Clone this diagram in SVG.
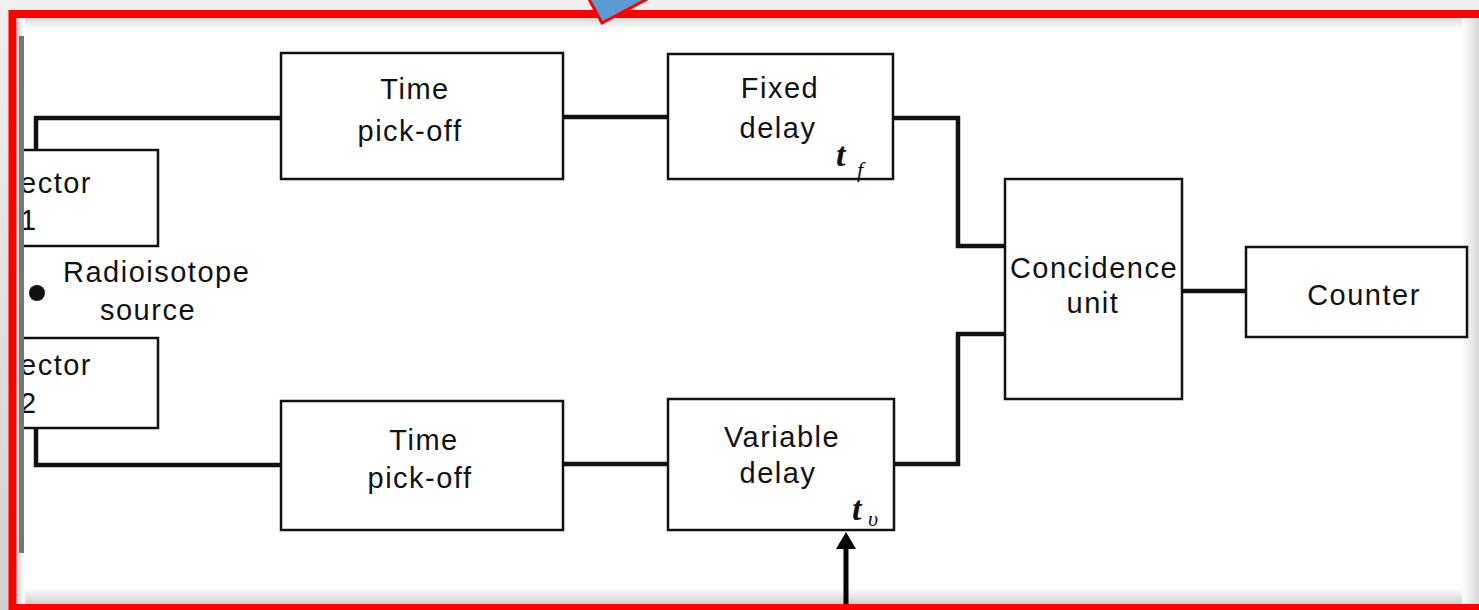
<svg xmlns="http://www.w3.org/2000/svg" width="1479" height="610" viewBox="0 0 1479 610">
  <defs>
    <style>
      .box { fill: #ffffff; stroke: #111111; stroke-width: 2.5; }
      .wire { fill: none; stroke: #111111; stroke-width: 4.5; stroke-linejoin: miter; stroke-linecap: square; }
      .lbl { font-family: "Liberation Sans", Arial, sans-serif; font-size: 29px; letter-spacing: 1.5px; fill: #111111; }
      .mid { text-anchor: middle; }
      .sym { font-family: "Liberation Serif", "Times New Roman", serif; font-style: italic; font-weight: bold; font-size: 34px; fill: #111111; }
      .sub { font-family: "Liberation Serif", "Times New Roman", serif; font-style: italic; font-size: 22px; fill: #111111; }
    </style>
    <linearGradient id="shTop" x1="0" y1="0" x2="0" y2="1">
      <stop offset="0" stop-color="#d4d4d4"/>
      <stop offset="1" stop-color="#ffffff"/>
    </linearGradient>
    <linearGradient id="shBottom" x1="0" y1="0" x2="0" y2="1">
      <stop offset="0" stop-color="#ffffff"/>
      <stop offset="1" stop-color="#cfcfcf"/>
    </linearGradient>
    <linearGradient id="shRight" x1="0" y1="0" x2="1" y2="0">
      <stop offset="0" stop-color="#ffffff"/>
      <stop offset="1" stop-color="#d6d6d6"/>
    </linearGradient>
    <linearGradient id="shLeft" x1="0" y1="0" x2="1" y2="0">
      <stop offset="0" stop-color="#d8d8d8"/>
      <stop offset="1" stop-color="#ffffff"/>
    </linearGradient>
    <linearGradient id="outer" x1="0" y1="0" x2="0" y2="1">
      <stop offset="0" stop-color="#f0f0f0"/>
      <stop offset="1" stop-color="#d0d0d0"/>
    </linearGradient>
    <!-- the page is trimmed on its left edge -->
    <clipPath id="pageEdge">
      <rect x="22" y="0" width="1457" height="610"/>
    </clipPath>
  </defs>

  <!-- page background and frame -->
  <rect x="0" y="0" width="1479" height="610" fill="url(#outer)"/>
  <rect x="17" y="17" width="1470" height="587" fill="#ffffff"/>
  <rect x="17" y="17" width="1470" height="12" fill="url(#shTop)"/>
  <rect x="17" y="588" width="1470" height="16" fill="url(#shBottom)"/>
  <rect x="1462" y="17" width="17" height="587" fill="url(#shRight)"/>
  <rect x="17" y="17" width="8" height="587" fill="url(#shLeft)"/>

  <!-- connectors -->
  <g id="connectors">
    <path class="wire" d="M36,150 V118 H281"/>
    <path class="wire" d="M563,117 H668"/>
    <path class="wire" d="M893,118 H958 V246 H1005"/>
    <path class="wire" d="M36,428 V465 H281"/>
    <path class="wire" d="M563,464 H668"/>
    <path class="wire" d="M894,464 H958 V334 H1005"/>
    <path class="wire" d="M1182,291 H1246"/>
    <line x1="846" y1="612" x2="846" y2="545" stroke="#000000" stroke-width="5"/>
    <polygon points="846,532 836,549 856,549" fill="#000000"/>
  </g>

  <!-- detector 1 -->
  <g id="detector1" clip-path="url(#pageEdge)">
    <rect class="box" x="-10" y="150" width="168" height="96"/>
    <text class="lbl" x="20" y="193">ector</text>
    <text class="lbl" x="20" y="230">1</text>
  </g>

  <!-- detector 2 -->
  <g id="detector2" clip-path="url(#pageEdge)">
    <rect class="box" x="-10" y="338" width="168" height="90"/>
    <text class="lbl" x="20" y="375">ector</text>
    <text class="lbl" x="20" y="413">2</text>
  </g>

  <!-- source -->
  <g id="source">
    <circle cx="37" cy="293" r="8" fill="#111111"/>
    <text class="lbl" x="63" y="282">Radioisotope</text>
    <text class="lbl mid" x="148" y="320">source</text>
  </g>

  <!-- upper channel -->
  <g id="pickoff1">
    <rect class="box" x="281" y="53" width="282" height="126"/>
    <text class="lbl mid" x="415" y="99">Time</text>
    <text class="lbl mid" x="410" y="141">pick-off</text>
  </g>
  <g id="fixeddelay">
    <rect class="box" x="668" y="54" width="225" height="125"/>
    <text class="lbl mid" x="780" y="98">Fixed</text>
    <text class="lbl mid" x="778" y="138">delay</text>
    <text class="sym" x="836" y="166">t</text>
    <text class="sub" x="857" y="177">f</text>
  </g>

  <!-- lower channel -->
  <g id="pickoff2">
    <rect class="box" x="281" y="401" width="282" height="129"/>
    <text class="lbl mid" x="424" y="450">Time</text>
    <text class="lbl mid" x="420" y="488">pick-off</text>
  </g>
  <g id="variabledelay">
    <rect class="box" x="668" y="399" width="226" height="131"/>
    <text class="lbl mid" x="782" y="447">Variable</text>
    <text class="lbl mid" x="778" y="483">delay</text>
    <text class="sym" x="852" y="520">t</text>
    <text class="sub" x="868" y="526">υ</text>
  </g>

  <!-- coincidence and counter -->
  <g id="coincidence">
    <rect class="box" x="1005" y="179" width="177" height="220"/>
    <text class="lbl mid" x="1094" y="278">Concidence</text>
    <text class="lbl mid" x="1093" y="313">unit</text>
  </g>
  <g id="counter">
    <rect class="box" x="1246" y="247" width="221" height="90"/>
    <text class="lbl mid" x="1364" y="305">Counter</text>
  </g>

  <!-- frame drawn over the page -->
  <rect x="19" y="36" width="5" height="517" fill="#777777"/>
  <rect x="12.5" y="14" width="1490" height="594" fill="none" stroke="#ff0000" stroke-width="8"/>
  <polygon points="583,-12 602,23 668,-12" fill="#5b9bd5" stroke="#ff0000" stroke-width="3"/>
</svg>
